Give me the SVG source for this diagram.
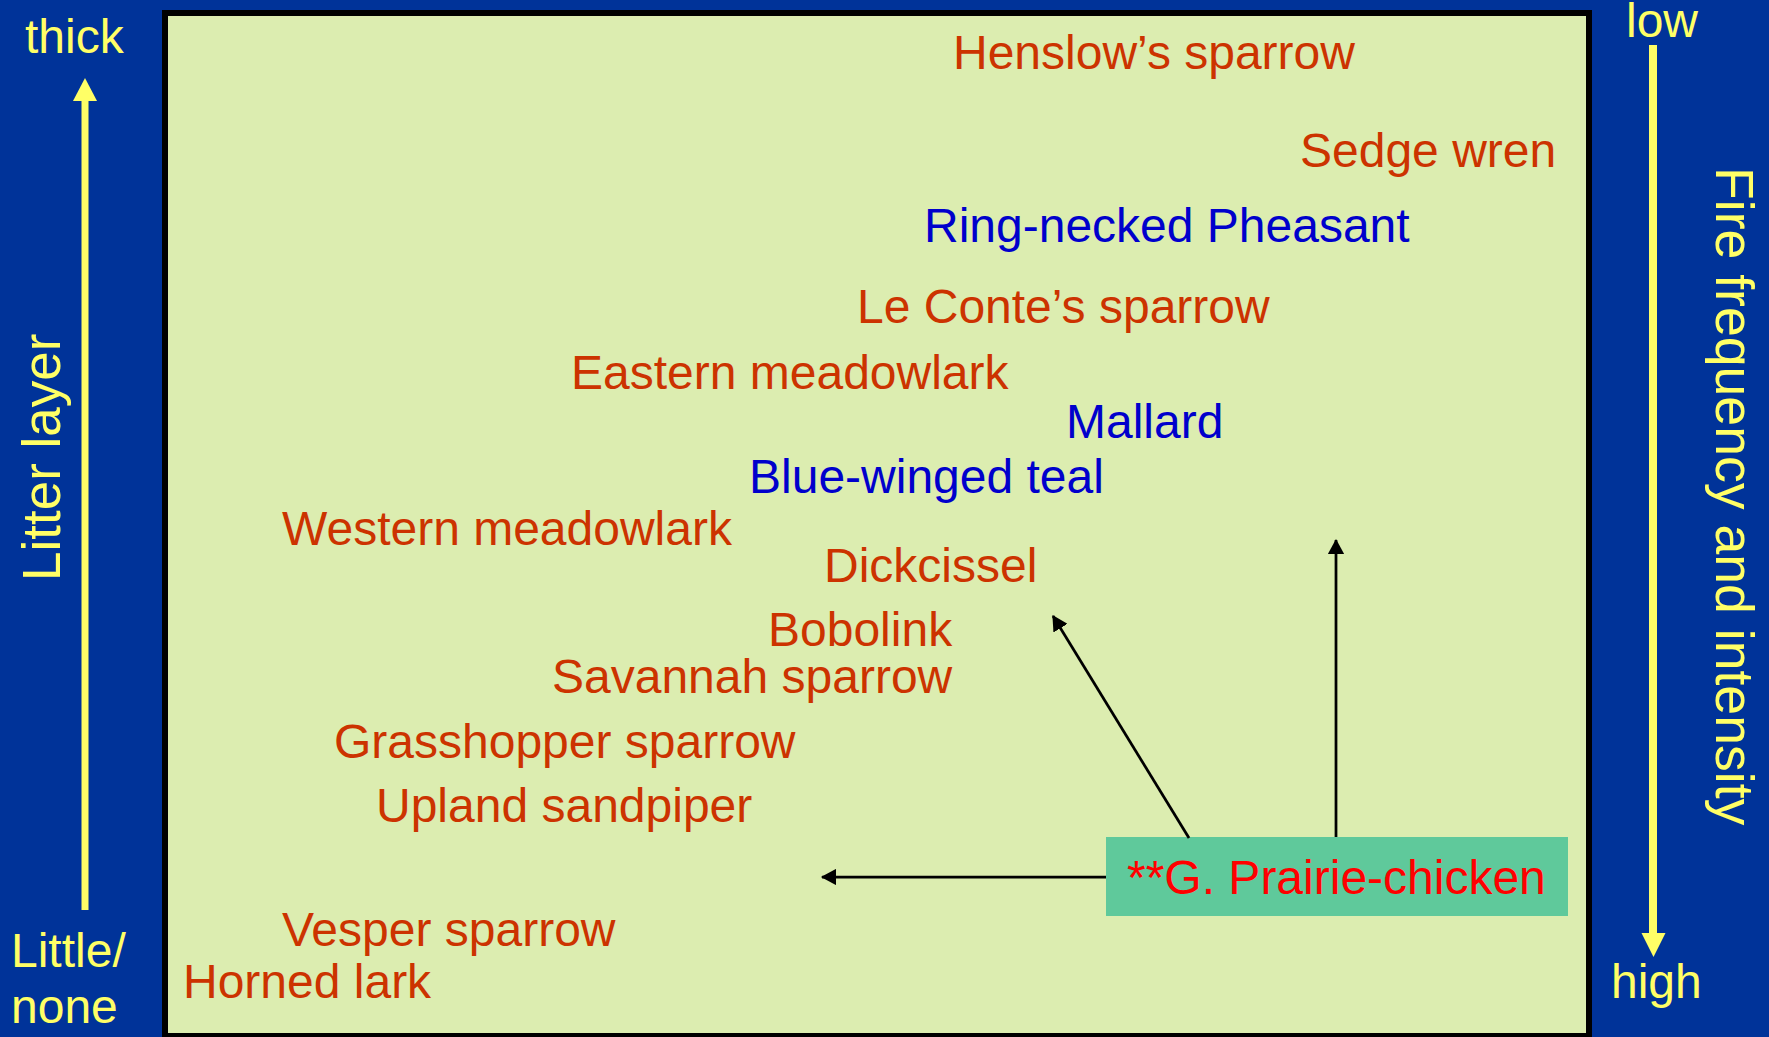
<svg xmlns="http://www.w3.org/2000/svg" width="1769" height="1037" viewBox="0 0 1769 1037">
  <style>
    text { font-family: "Liberation Sans", Arial, sans-serif; }
    .ax { fill: #FFFF66; font-size: 48px; }
    .axr { fill: #FFFF66; font-size: 53px; }
    .axf { fill: #FFFF66; font-size: 53.6px; }
    .sp { fill: #CC3300; font-size: 48px; }
    .bl { fill: #0000CC; font-size: 48px; }
    .pc { fill: #FF0000; font-size: 48px; }
    .con { stroke: #000000; stroke-width: 2.75; fill: none; marker-end: url(#ah); }
  </style>
  <defs>
    <marker id="ah" markerWidth="6" markerHeight="6" refX="5.2" refY="3" orient="auto" markerUnits="strokeWidth">
      <path d="M0,0 L5.6,3 L0,6 Z" fill="#000000"/>
    </marker>
  </defs>

  <rect x="0" y="0" width="1769" height="1037" fill="#003399"/>
  <rect x="165" y="13" width="1424" height="1023" fill="#DCEDB0" stroke="#000000" stroke-width="6"/>

  <!-- axes -->
  <g id="axis-left">
    <rect x="81.5" y="100" width="7" height="810" fill="#FFFF66"/>
    <polygon points="85,78 97,101 73,101" fill="#FFFF66"/>
    <text class="ax" x="25" y="53">thick</text>
    <text class="ax" x="11" y="967">Little/</text>
    <text class="ax" x="11" y="1023">none</text>
    <text class="axr" x="60" y="581" transform="rotate(-90 60 581)">Litter layer</text>
  </g>
  <g id="axis-right">
    <rect x="1649" y="45" width="8" height="889" fill="#FFFF66"/>
    <polygon points="1641.5,933 1665.5,933 1653.5,957" fill="#FFFF66"/>
    <text class="ax" x="1626" y="37">low</text>
    <text class="ax" x="1611" y="998">high</text>
    <text class="axf" x="1716" y="167" transform="rotate(90 1716 167)">Fire frequency and intensity</text>
  </g>

  <!-- species nodes -->
  <g id="henslows-sparrow"><text class="sp" x="953" y="69">Henslow’s sparrow</text></g>
  <g id="sedge-wren"><text class="sp" x="1300" y="167">Sedge wren</text></g>
  <g id="ring-necked-pheasant"><text class="bl" x="924" y="242">Ring-necked Pheasant</text></g>
  <g id="le-contes-sparrow"><text class="sp" x="857" y="323">Le Conte’s sparrow</text></g>
  <g id="eastern-meadowlark"><text class="sp" x="571" y="389">Eastern meadowlark</text></g>
  <g id="mallard"><text class="bl" x="1066" y="438">Mallard</text></g>
  <g id="blue-winged-teal"><text class="bl" x="749" y="493">Blue-winged teal</text></g>
  <g id="western-meadowlark"><text class="sp" x="282" y="545">Western meadowlark</text></g>
  <g id="dickcissel"><text class="sp" x="824" y="582">Dickcissel</text></g>
  <g id="bobolink"><text class="sp" x="768" y="646">Bobolink</text></g>
  <g id="savannah-sparrow"><text class="sp" x="552" y="693">Savannah sparrow</text></g>
  <g id="grasshopper-sparrow"><text class="sp" x="334" y="758">Grasshopper sparrow</text></g>
  <g id="upland-sandpiper"><text class="sp" x="376" y="822">Upland sandpiper</text></g>
  <g id="vesper-sparrow"><text class="sp" x="282" y="946">Vesper sparrow</text></g>
  <g id="horned-lark"><text class="sp" x="183" y="998">Horned lark</text></g>

  <g id="prairie-chicken">
    <rect x="1106" y="837" width="462" height="79" fill="#5FC99B"/>
    <text class="pc" x="1127" y="894">**G. Prairie-chicken</text>
  </g>

  <!-- connectors -->
  <g id="connectors">
    <line class="con" x1="1106" y1="877" x2="822" y2="877"/>
    <line class="con" x1="1189" y1="838" x2="1053" y2="616"/>
    <line class="con" x1="1336" y1="837" x2="1336" y2="540"/>
  </g>
</svg>
